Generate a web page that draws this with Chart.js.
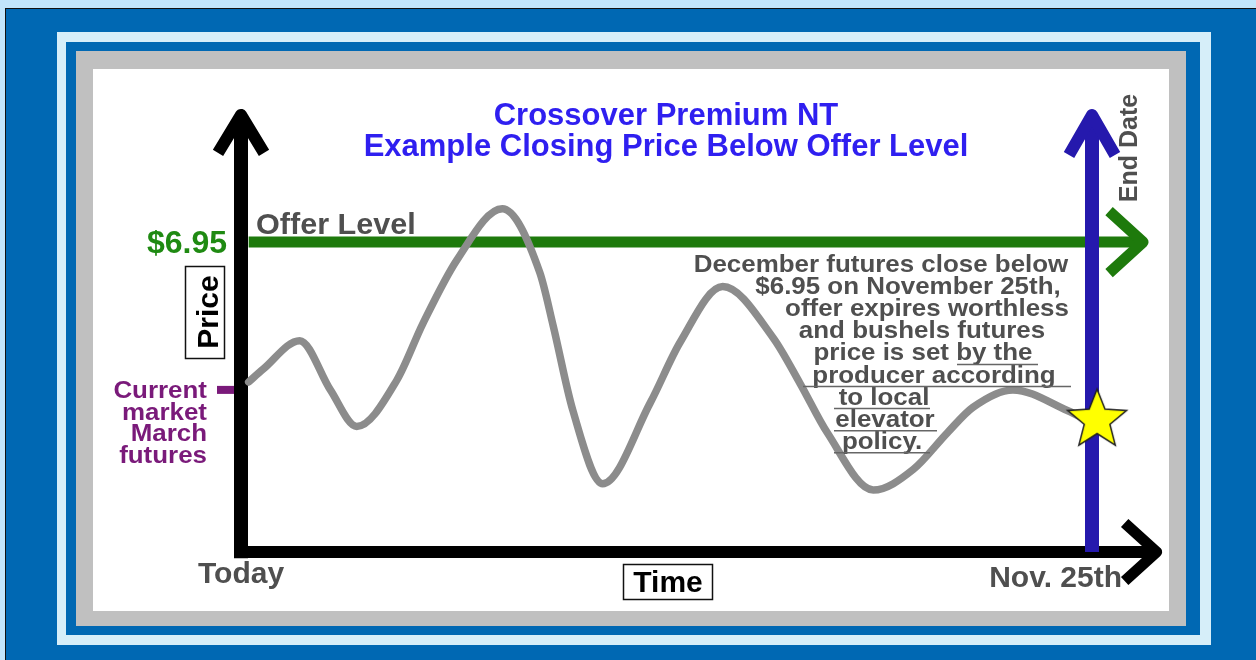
<!DOCTYPE html>
<html>
<head>
<meta charset="utf-8">
<script src="https://cdn.jsdelivr.net/npm/chart.js@4.4.1/dist/chart.umd.min.js"></script>
<style>
  html, body { margin: 0; padding: 0; background: #c2e5fb; }
  #wrap { width: 1256px; height: 660px; }
</style>
</head>
<body>
<div id="wrap"><canvas id="priceChart" width="1256" height="660"></canvas></div>
<script>
// price path, time in % of the period (0 = today, 100 = Nov. 25th)
const days = [0.9, 2.6, 6.9, 10.5, 13.6, 18.3, 21.4, 25.4, 30.7, 35.1, 36.7, 39.0, 42.5,
  48.1, 51.6, 56.6, 62.5, 65.7, 68.9, 74.3, 79.0, 83.0, 86.0, 90.7, 97.1, 99.8];
const prices = [6.07, 6.15, 6.33, 6.02, 5.79, 6.08, 6.44, 6.84, 7.16, 6.76, 6.42, 5.89, 5.43,
  5.94, 6.32, 6.67, 6.35, 6.06, 5.75, 5.39, 5.52, 5.75, 5.91, 6.02, 5.89, 5.82];
const offerLevel = 6.95;
const currentMarket = 6.02;
const endDay = 100;
const closeDay = 100.6;
const closePrice = 5.83;
const timeLabels = ['Today', 'Nov. 25th'];
const noteLines = ['December futures close below', '$6.95 on November 25th,', 'offer expires worthless',
  'and bushels futures', 'price is set by the', 'producer according', 'to local', 'elevator', 'policy.'];

// layout of the note text (centre x of each line)
const noteX = [881, 908, 927, 922, 923, 934, 884, 885, 882];
const noteTop = 272, noteStep = 22.1;

const pathPoints = days.map((d, i) => ({ x: d, y: prices[i] }));

function makeStar(R, r) {
  const c = document.createElement('canvas');
  const s = Math.ceil(R * 2 + 6);
  c.width = s; c.height = s;
  const g = c.getContext('2d');
  g.beginPath();
  for (let i = 0; i < 10; i++) {
    const rad = i % 2 ? r : R;
    const a = -Math.PI / 2 + i * Math.PI / 5;
    g.lineTo(s / 2 + rad * Math.cos(a), s / 2 + rad * Math.sin(a));
  }
  g.closePath();
  g.fillStyle = '#ffff00';
  g.fill();
  g.strokeStyle = '#222';
  g.lineWidth = 1.5;
  g.stroke();
  return c;
}

function txt(ctx, s, x, y, font, color, align, sx) {
  ctx.save();
  ctx.translate(x, y);
  ctx.scale(sx || 1, 1);
  ctx.font = font;
  ctx.fillStyle = color;
  ctx.textAlign = align;
  ctx.textBaseline = 'alphabetic';
  ctx.fillText(s, 0, 0);
  ctx.restore();
}

const framePlugin = {
  id: 'frame',
  beforeDraw(chart) {
    const ctx = chart.ctx;
    ctx.save();
    ctx.fillStyle = '#c2e5fb'; ctx.fillRect(0, 0, 1256, 660);
    ctx.fillStyle = '#111'; ctx.fillRect(5, 8, 1251, 652);
    ctx.fillStyle = '#0068b3'; ctx.fillRect(6, 9, 1250, 651);
    ctx.fillStyle = '#d6eef9'; ctx.fillRect(57, 32, 1154, 613);
    ctx.fillStyle = '#0068b3'; ctx.fillRect(66, 42, 1134, 593);
    ctx.fillStyle = '#c0c0c0'; ctx.fillRect(76, 51, 1110, 575);
    ctx.fillStyle = '#ffffff'; ctx.fillRect(93, 69, 1076, 542);
    ctx.restore();
  }
};

const arrowPlugin = {
  id: 'arrows',
  afterDatasetsDraw(chart) {
    const ctx = chart.ctx;
    chart.data.datasets.forEach((ds, i) => {
      if (!ds.arrow) return;
      const pts = chart.getDatasetMeta(i).data;
      const a = pts[pts.length - 2], b = pts[pts.length - 1];
      const len = Math.hypot(b.x - a.x, b.y - a.y);
      const ux = (b.x - a.x) / len, uy = (b.y - a.y) / len;
      const back = ds.arrow.back, spread = ds.arrow.spread;
      ctx.save();
      ctx.strokeStyle = ds.borderColor;
      ctx.lineWidth = ds.arrow.width;
      ctx.lineJoin = 'round';
      ctx.lineCap = 'butt';
      ctx.beginPath();
      ctx.moveTo(b.x - ux * back - uy * spread, b.y - uy * back + ux * spread);
      ctx.lineTo(b.x, b.y);
      ctx.lineTo(b.x - ux * back + uy * spread, b.y - uy * back - ux * spread);
      ctx.stroke();
      ctx.restore();
    });
  }
};

const labelPlugin = {
  id: 'labels',
  afterDraw(chart) {
    const ctx = chart.ctx;
    const xs = chart.scales.x, ys = chart.scales.y;
    const bold = (n) => 'bold ' + n + 'px "Liberation Sans", Arial, sans-serif';
    const grey = '#4f4f4f';

    // title
    txt(ctx, 'Crossover Premium NT', 666, 125, bold(31), '#2f1ff0', 'center');
    txt(ctx, 'Example Closing Price Below Offer Level', 666, 156, bold(31), '#2f1ff0', 'center');

    // offer level
    const yOffer = ys.getPixelForValue(offerLevel);
    txt(ctx, 'Offer Level', 256, yOffer - 8, bold(30), grey, 'left', 1.02);
    txt(ctx, '$6.95', 227, yOffer + 11, bold(32), '#1f8a12', 'right');

    // current market tick and label
    const yCur = ys.getPixelForValue(currentMarket);
    ctx.fillStyle = '#7a1a7a';
    ctx.fillRect(217, yCur - 4, 17, 8);
    ['Current', 'market', 'March', 'futures'].forEach((s, i) => {
      txt(ctx, s, 207, yCur + 8 + i * 21.8, bold(24), '#7a1a7a', 'right', 1.08);
    });

    // Price box
    ctx.save();
    ctx.strokeStyle = '#111'; ctx.lineWidth = 1.5;
    ctx.strokeRect(185.5, 266.5, 39, 92);
    ctx.translate(218, 312);
    ctx.rotate(-Math.PI / 2);
    ctx.font = bold(30); ctx.fillStyle = '#000'; ctx.textAlign = 'center';
    ctx.fillText('Price', 0, 0);
    ctx.restore();

    // time labels
    const yBase = ys.getPixelForValue(5);
    txt(ctx, timeLabels[0], 198, yBase + 31, bold(30), grey, 'left');
    txt(ctx, timeLabels[1], xs.getPixelForValue(endDay) + 30, yBase + 35, bold(30), grey, 'right');

    // Time box
    ctx.save();
    ctx.strokeStyle = '#111'; ctx.lineWidth = 1.5;
    ctx.strokeRect(623.5, 564.5, 89, 35);
    ctx.restore();
    txt(ctx, 'Time', 668, 592, bold(30), '#000', 'center');

    // End Date
    ctx.save();
    ctx.translate(1137, 148);
    ctx.rotate(-Math.PI / 2);
    ctx.font = bold(25); ctx.fillStyle = grey; ctx.textAlign = 'center';
    ctx.fillText('End Date', 0, 0);
    ctx.restore();

    // note
    noteLines.forEach((s, i) => {
      txt(ctx, s, noteX[i], noteTop + i * noteStep, bold(24), grey, 'center', 1.08);
    });
    const under = [[957, 1038, 4], [803, 1071, 5], [834, 930, 6], [834, 937, 7], [834, 930, 8]];
    ctx.save();
    ctx.strokeStyle = '#666'; ctx.lineWidth = 1.5;
    under.forEach(([x1, x2, li]) => {
      const y = noteTop + li * noteStep + 4;
      ctx.beginPath(); ctx.moveTo(x1, y); ctx.lineTo(x2, y); ctx.stroke();
    });
    ctx.restore();
  }
};

new Chart(document.getElementById('priceChart'), {
  type: 'line',
  data: {
    datasets: [
      {
        label: 'Close', data: [{ x: closeDay, y: closePrice }], showLine: false,
        pointStyle: makeStar(31, 13.5), pointRadius: 31, order: 0, clip: false
      },
      {
        label: 'Price', data: pathPoints, borderColor: '#8c8c8c', borderWidth: 7.5,
        cubicInterpolationMode: 'monotone', pointRadius: 0, order: 1, clip: false,
        borderCapStyle: 'round', borderJoinStyle: 'round'
      },
      {
        label: 'End Date', data: [{ x: endDay, y: 5 }, { x: endDay, y: 7.75 }],
        borderColor: '#2519ad', borderWidth: 14, pointRadius: 0, order: 2, clip: false,
        arrow: { back: 40, spread: 23, width: 12 }
      },
      {
        label: 'Offer Level', data: [{ x: 0.9, y: offerLevel }, { x: 106.0, y: offerLevel }],
        borderColor: '#1e7a0c', borderWidth: 11, pointRadius: 0, order: 3, clip: false,
        arrow: { back: 34, spread: 31, width: 11 }
      },
      {
        label: 'Time axis', data: [{ x: -0.8, y: 5 }, { x: 107.6, y: 5 }],
        borderColor: '#000', borderWidth: 12, pointRadius: 0, order: 4, clip: false,
        arrow: { back: 32, spread: 29, width: 11 }
      },
      {
        label: 'Price axis', data: [{ x: 0, y: 4.96 }, { x: 0, y: 7.75 }],
        borderColor: '#000', borderWidth: 14, pointRadius: 0, order: 5, clip: false,
        arrow: { back: 38, spread: 23, width: 12 }
      }
    ]
  },
  options: {
    responsive: false,
    animation: false,
    events: [],
    devicePixelRatio: 1,
    layout: { padding: { left: 241, right: 164, top: 107, bottom: 108 } },
    scales: {
      x: { type: 'linear', min: 0, max: 100, display: false },
      y: { type: 'linear', min: 5, max: 7.8, display: false }
    },
    plugins: { legend: { display: false }, tooltip: { enabled: false }, title: { display: false } }
  },
  plugins: [framePlugin, arrowPlugin, labelPlugin]
});
</script>
</body>
</html>
